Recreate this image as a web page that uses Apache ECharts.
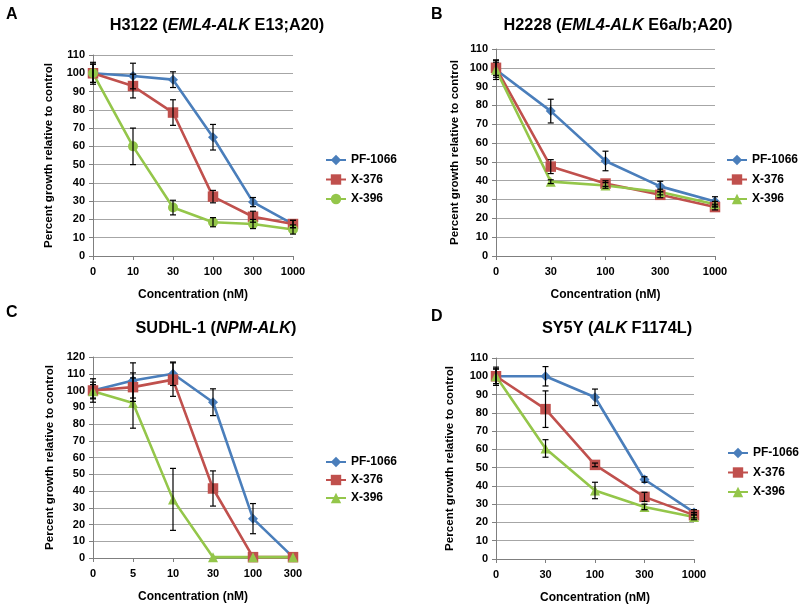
<!DOCTYPE html>
<html>
<head>
<meta charset="utf-8">
<script src="https://cdn.jsdelivr.net/npm/echarts@6/dist/echarts.min.js"></script>
<style>
  html, body { margin: 0; padding: 0; background: #fff; }
  #chart { width: 800px; height: 611px; }
</style>
</head>
<body>
<div id="chart"></div>
<script>
// categories (nM)
const catsA = ['0', '10', '30', '100', '300', '1000'];
const catsB = ['0', '30', '100', '300', '1000'];
const catsC = ['0', '5', '10', '30', '100', '300'];
const catsD = ['0', '30', '100', '300', '1000'];

const drugs = ['PF-1066', 'X-376', 'X-396'];

// A: H3122
const pfA = [100, 98.5, 96.5, 65, 29.5, 17.5];
const pfAErr = [6, 7, 4.3, 7, 2.5, 2];
const x376A = [100, 93, 78.5, 32.5, 21.5, 17.5];
const x376AErr = [5, 6.5, 7, 3.4, 3, 2];
const x396A = [100, 60, 26.5, 18.5, 17.5, 14.5];
const x396AErr = [5, 10, 4, 2.5, 2.5, 2.5];

// B: H2228
const pfB = [99, 77, 50.5, 37, 29];
const pfBErr = [5.2, 6.3, 5.2, 2.7, 2.5];
const x376B = [100, 47.5, 38.5, 32.5, 26];
const x376BErr = [4, 3.7, 1.5, 1.5, 1.5];
const x396B = [99, 39.5, 37.5, 34, 27.5];
const x396BErr = [4, 1, 1.5, 1.5, 1.5];

// C: SUDHL-1
const pfC = [100, 106, 110, 93, 23.5, 0.5];
const pfCErr = [7, 10.5, 7, 8, 9, 0];
const x376C = [100, 102, 106.5, 41.5, 0.5, 0.5];
const x376CErr = [5, 8.5, 10, 10.5, 0, 0];
const x396C = [99.5, 92.5, 35, 0.5, 0.5, 0.5];
const x396CErr = [4, 15, 18.5, 0, 0, 0];

// D: SY5Y
const pfD = [100, 100, 88.5, 43.5, 25.5];
const pfDErr = [5, 5.3, 4.5, 1.5, 1.5];
const x376D = [100, 82, 51.5, 34, 24];
const x376DErr = [4, 10, 1, 2.5, 1.5];
const x396D = [100, 60.5, 37.5, 28.5, 23];
const x396DErr = [4, 4.8, 4.5, 1.5, 1.5];

const colors = ['#4a7ebb', '#c0504d', '#94c64a'];
const font = '"Liberation Sans", Arial, sans-serif';

const panels = [
  { key: 'A', cats: catsA, ymax: 110, vals: [pfA, x376A, x396A], errs: [pfAErr, x376AErr, x396AErr],
    symbols: ['diamond', 'rect', 'circle'], yGap: 38,
    grid: { left: 93, top: 55, width: 200, height: 201 }, legend: { left: 325, top: 154, gap: 7.5 } },
  { key: 'B', cats: catsB, ymax: 110, vals: [pfB, x376B, x396B], errs: [pfBErr, x376BErr, x396BErr],
    symbols: ['diamond', 'rect', 'triangle'], yGap: 35,
    grid: { left: 496, top: 49, width: 219, height: 207 }, legend: { left: 726, top: 154, gap: 7.5 } },
  { key: 'C', cats: catsC, ymax: 120, vals: [pfC, x376C, x396C], errs: [pfCErr, x376CErr, x396CErr],
    symbols: ['diamond', 'rect', 'triangle'], yGap: 37,
    grid: { left: 93, top: 357, width: 200, height: 201 }, legend: { left: 325, top: 456, gap: 6 } },
  { key: 'D', cats: catsD, ymax: 110, vals: [pfD, x376D, x396D], errs: [pfDErr, x376DErr, x396DErr],
    symbols: ['diamond', 'rect', 'triangle'], yGap: 40,
    grid: { left: 496, top: 358, width: 198, height: 201 }, legend: { left: 727, top: 447, gap: 7.5 } }
];

const chart = echarts.init(document.getElementById('chart'));

// error bar drawing
function renderErr(params, api) {
  const e = api.value(2);
  if (!e) return;
  const x = api.value(0), v = api.value(1);
  const top = api.coord([x, v + e]);
  const bot = api.coord([x, v - e]);
  const w = 3;
  const st = { stroke: '#000', lineWidth: 1.2 };
  return {
    type: 'group',
    children: [
      { type: 'line', shape: { x1: top[0], y1: top[1], x2: bot[0], y2: bot[1] }, style: st },
      { type: 'line', shape: { x1: top[0] - w, y1: top[1], x2: top[0] + w, y2: top[1] }, style: st },
      { type: 'line', shape: { x1: bot[0] - w, y1: bot[1], x2: bot[0] + w, y2: bot[1] }, style: st }
    ]
  };
}

const grids = [], xAxes = [], yAxes = [], series = [], legends = [];

panels.forEach((p, i) => {
  grids.push(p.grid);
  xAxes.push({
    type: 'category', gridIndex: i, data: p.cats, boundaryGap: false,
    name: 'Concentration (nM)', nameLocation: 'middle', nameGap: 33,
    nameTextStyle: { fontFamily: font, fontWeight: 'bold', fontSize: 12, color: '#000' },
    axisLine: { lineStyle: { color: '#7f7f7f', width: 1 } },
    axisTick: { alignWithLabel: true, length: 4, lineStyle: { color: '#7f7f7f' } },
    axisLabel: { fontFamily: font, fontWeight: 'bold', fontSize: 11, color: '#000', margin: 10 },
    splitLine: { show: false }
  });
  yAxes.push({
    type: 'value', gridIndex: i, min: 0, max: p.ymax, interval: 10,
    name: 'Percent growth relative to control', nameLocation: 'middle', nameGap: p.yGap,
    nameTextStyle: { fontFamily: font, fontWeight: 'bold', fontSize: 11.6, color: '#000' },
    axisLine: { show: true, lineStyle: { color: '#7f7f7f', width: 1 } },
    axisTick: { show: true, length: 4, lineStyle: { color: '#7f7f7f' } },
    axisLabel: { fontFamily: font, fontWeight: 'bold', fontSize: 11, color: '#000', margin: 8 },
    splitLine: { lineStyle: { color: '#a6a6a6', width: 1 } }
  });
  const names = [];
  drugs.forEach((d, k) => {
    const name = p.key + '|' + d;
    names.push(name);
    series.push({
      name: name, type: 'line', xAxisIndex: i, yAxisIndex: i,
      data: p.vals[k],
      symbol: p.symbols[k],
      symbolSize: p.symbols[k] === 'rect' ? 10.5 : 10,
      color: colors[k],
      lineStyle: { width: 2.6, color: colors[k] },
      itemStyle: { color: colors[k] },
      z: 2
    });
    series.push({
      type: 'custom', xAxisIndex: i, yAxisIndex: i,
      renderItem: renderErr,
      data: p.vals[k].map((v, j) => [j, v, p.errs[k][j]]),
      encode: { x: 0, y: 1 },
      silent: true,
      z: 3
    });
  });
  legends.push({
    data: names, orient: 'vertical', left: p.legend.left, top: p.legend.top,
    padding: 0, itemWidth: 20, itemHeight: 13, itemGap: p.legend.gap,
    formatter: n => n.split('|')[1],
    textStyle: { fontFamily: font, fontWeight: 'bold', fontSize: 12, color: '#000' },
    selectedMode: false
  });
});

const titleRich = {
  b: { fontFamily: font, fontWeight: 'bold', fontSize: 16.3, fill: '#000' },
  i: { fontFamily: font, fontWeight: 'bold', fontStyle: 'italic', fontSize: 16.3, fill: '#000' }
};

function titleText(x, y, text) {
  return {
    type: 'text', x: x, y: y,
    style: { text: text, rich: titleRich, align: 'center', verticalAlign: 'middle',
      font: 'bold 16px ' + font, fill: '#000' }
  };
}
function letter(x, y, t) {
  return {
    type: 'text', x: x, y: y,
    style: { text: t, font: 'bold 16px ' + font, fill: '#000', verticalAlign: 'middle' }
  };
}

chart.setOption({
  animation: false,
  grid: grids,
  xAxis: xAxes,
  yAxis: yAxes,
  legend: legends,
  series: series,
  graphic: [
    letter(6, 15, 'A'),
    letter(431, 15, 'B'),
    letter(6, 313, 'C'),
    letter(431, 317, 'D'),
    titleText(217, 26, '{b|H3122 (}{i|EML4-ALK}{b| E13;A20)}'),
    titleText(618, 26, '{b|H2228 (}{i|EML4-ALK}{b| E6a/b;A20)}'),
    titleText(216, 329, '{b|SUDHL-1 (}{i|NPM-ALK}{b|)}'),
    titleText(617, 329, '{b|SY5Y (}{i|ALK}{b| F1174L)}')
  ]
});
</script>
</body>
</html>
